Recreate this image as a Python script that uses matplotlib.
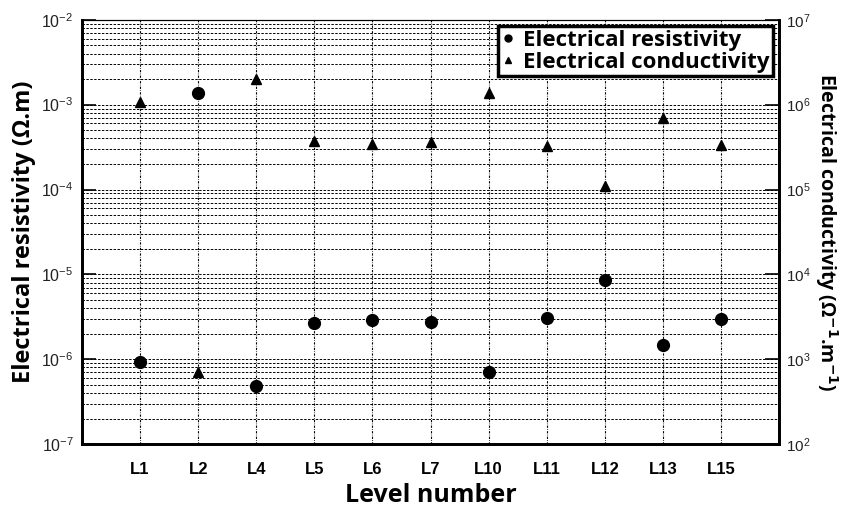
import matplotlib.pyplot as plt
from matplotlib.lines import Line2D
from matplotlib.ticker import LogLocator, NullFormatter

levels = ['L1', 'L2', 'L4', 'L5', 'L6', 'L7', 'L10', 'L11', 'L12', 'L13', 'L15']
resistivity = [9.3e-7, 1.37e-3, 4.9e-7, 2.64e-6, 2.9e-6, 2.78e-6,
               7.0e-7, 3.1e-6, 8.65e-6, 1.47e-6, 2.96e-6]
conductivity = [1.08e6, 7.1e2, 2.03e6, 3.76e5, 3.45e5, 3.6e5,
                1.38e6, 3.3e5, 1.1e5, 7.0e5, 3.35e5]

label_font = ['Open Sans', 'DejaVu Sans']
tick_font = ['Liberation Sans', 'DejaVu Sans']

fig = plt.figure(figsize=(8.45, 5.07), dpi=100)
ax = fig.add_axes([0.097, 0.124, 0.825, 0.837])
x = list(range(1, len(levels) + 1))

ax.set_yscale('log')
ax.set_ylim(1e-7, 1e-2)
ax.set_xlim(0, len(levels) + 1)
ax.plot(x, resistivity, 'o', color='black', markersize=8.5, zorder=5)

ax.yaxis.set_major_locator(LogLocator(base=10, numticks=10))
ax.yaxis.set_minor_locator(LogLocator(base=10, subs=range(2, 10), numticks=100))
ax.yaxis.set_minor_formatter(NullFormatter())
ax.set_xticks(x)
ax.set_xticklabels(levels, fontweight='bold', fontsize=12, family=tick_font)
for lbl in ax.get_yticklabels():
    lbl.set_family(tick_font)
    lbl.set_fontsize(11.5)
    lbl.set_color('#222222')

ax.grid(True, which='both', axis='y', color='black', linestyle=(0, (2.5, 1.5)), linewidth=0.7)
ax.grid(True, which='major', axis='x', color='black', linestyle=(0, (2, 1.2, 0.6, 1.2)), linewidth=0.8)
ax.tick_params(axis='y', which='major', direction='in', length=10, width=1.2, pad=6)
ax.tick_params(axis='y', which='minor', direction='in', length=0)
ax.tick_params(axis='x', direction='in', length=0, pad=13)

ax.set_xlabel('Level number', fontsize=18, fontweight='bold', family=label_font, labelpad=4)
ax.set_ylabel('Electrical resistivity (Ω.m)', fontsize=17, fontweight='bold', family=label_font, labelpad=4)

for side in ['left', 'right', 'bottom']:
    ax.spines[side].set_linewidth(2)
ax.spines['top'].set_linewidth(0.8)

# conductivity on a twin log axis, decades aligned with the left axis
ax2 = ax.twinx()
ax2.set_yscale('log')
ax2.set_ylim(1e2, 1e7)
ax2.plot(x, conductivity, '^', color='black', markersize=7, zorder=5)
ax2.yaxis.set_major_locator(LogLocator(base=10, numticks=10))
ax2.yaxis.set_minor_locator(LogLocator(base=10, subs=range(2, 10), numticks=100))
ax2.yaxis.set_minor_formatter(NullFormatter())
ax2.tick_params(axis='y', which='major', direction='in', length=10, width=1.2, pad=5)
ax2.tick_params(axis='y', which='minor', direction='in', length=0)
for lbl in ax2.get_yticklabels():
    lbl.set_family(tick_font)
    lbl.set_fontsize(11)
    lbl.set_color('#222222')
ax2.set_ylabel('Electrical conductivity (Ω$^{\\mathbf{-1}}$.m$^{\\mathbf{-1}}$)', fontsize=14,
               fontweight='bold', family=label_font, rotation=270, labelpad=21)
for side in ['left', 'right', 'bottom']:
    ax2.spines[side].set_linewidth(2)
ax2.spines['top'].set_linewidth(0.8)

handles = [
    Line2D([], [], marker='o', color='black', linestyle='none', markersize=5),
    Line2D([], [], marker='^', color='black', linestyle='none', markersize=5),
]
leg = ax2.legend(handles, ['Electrical resistivity', 'Electrical conductivity'],
                 loc='upper right', bbox_to_anchor=(0.998, 0.995), frameon=True, fancybox=False,
                 handlelength=0.6, handletextpad=0.4, borderpad=0.15, labelspacing=0.05,
                 borderaxespad=0.2, prop={'family': label_font, 'weight': 'bold', 'size': 16})
leg.get_frame().set_edgecolor('black')
leg.get_frame().set_linewidth(2.5)
leg.get_frame().set_alpha(1)
leg.set_zorder(10)

fig.savefig('out.png', dpi=100)
